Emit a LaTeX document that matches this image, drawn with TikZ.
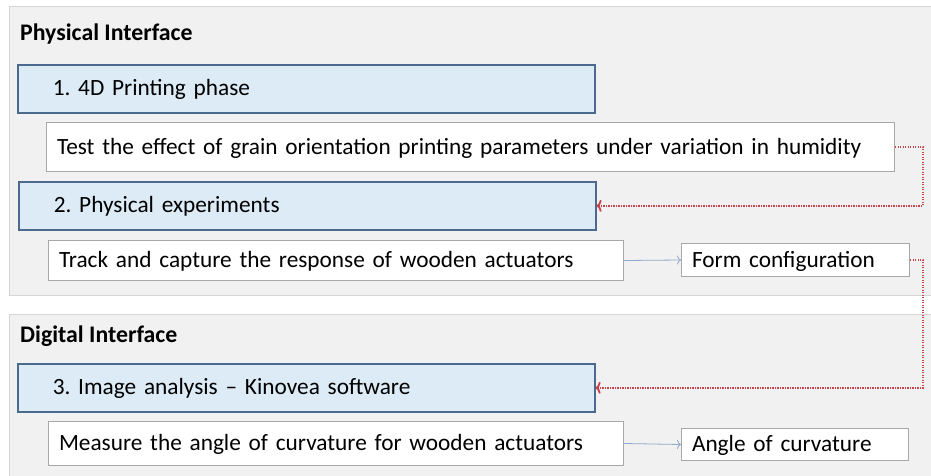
\documentclass[tikz,border=0pt]{standalone}
\usepackage{fontspec}
\setmainfont{Carlito}
\usetikzlibrary{arrows.meta}

\definecolor{panelfill}{HTML}{F1F1F1}
\definecolor{panelline}{HTML}{D6D6D6}
\definecolor{stagefill}{HTML}{DCEBF6}
\definecolor{stageline}{HTML}{4C6A8E}
\definecolor{noteline}{HTML}{A8A8A8}
\definecolor{flowline}{HTML}{8FAACB}
\definecolor{loopred}{HTML}{C9434A}

\tikzset{
    panel/.style={draw=panelline, fill=panelfill, line width=1pt},
    paneltitle/.style={anchor=base west, inner sep=0pt, font=\fontsize{23.8}{27}\selectfont\bfseries},
    stagebox/.style={draw=stageline, fill=stagefill, line width=1.6pt, anchor=north west, align=left,
        inner xsep=35pt, inner ysep=2pt, text width=507pt, minimum height=48pt,
        text height=19pt, text depth=5pt, font=\fontsize{23.3}{27}\selectfont},
    notebox/.style={draw=noteline, fill=white, line width=1pt, anchor=north west, align=left,
        inner xsep=10.5pt, inner ysep=2pt, text height=19pt, text depth=5pt, font=\fontsize{23.3}{27}\selectfont},
    flow/.style={draw=flowline, line width=0.8pt, -{To[length=4pt,width=9pt]}},
    feedback/.style={draw=loopred, line width=1.8pt, dash pattern=on 1.4pt off 1.1pt, -{To[length=5pt,width=12pt]}},
}

\begin{document}
\frenchspacing
\begin{tikzpicture}[x=1pt, y=-1pt]
    \useasboundingbox (0,0) rectangle (931,476);

    % two interface panels
    \draw[panel] (9,7) rectangle (945,295);
    \draw[panel] (9,314) rectangle (945,490);
    \node[paneltitle] (physical) at (20,41) {Physical Interface};
    \node[paneltitle] (digital) at (20,342) {Digital Interface};

    % physical stages
    \node[stagebox] (printing) at (17,64) {1. 4D Printing phase};
    \node[notebox, text width=827pt, minimum height=49pt] (test) at (46,122)
        {Test the effect of grain orientation printing parameters under variation in humidity};
    \node[stagebox] (experiments) at (18,181) {2. Physical experiments};
    \node[notebox, text width=554pt, minimum height=40pt] (track) at (48,240)
        {Track and capture the response of wooden actuators};
    \node[notebox, text width=207pt, minimum height=33pt] (form) at (681,243) {Form configuration};

    % digital stage
    \node[stagebox] (analysis) at (17,363) {3. Image analysis -- Kinovea software};
    \node[notebox, text width=554pt, minimum height=44pt] (measure) at (48,421)
        {Measure the angle of curvature for wooden actuators};
    \node[notebox, text width=206pt, minimum height=32pt] (angle) at (681,428) {Angle of curvature};

    \coordinate (rail) at (923,0);

    \draw[flow] (track.east) -- (form.west);
    \draw[flow] (measure.east) -- (angle.west);
    \draw[feedback] (test.east) -| (rail |- experiments.east) -- (experiments.east);
    \draw[feedback] (form.east) -| (rail |- analysis.east) -- (analysis.east);
\end{tikzpicture}
\end{document}
